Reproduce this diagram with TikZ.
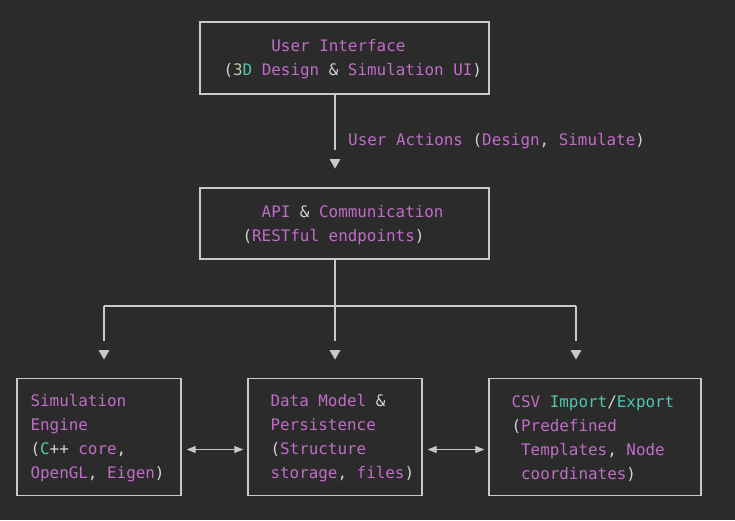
\documentclass[tikz,border=0pt]{standalone}
\usepackage{fontspec}
\setmonofont{DejaVu Sans Mono}
\usetikzlibrary{positioning, arrows.meta, shapes.geometric}
\definecolor{bgdark}{HTML}{2B2B2B}
\definecolor{plaincol}{HTML}{D4D4D4}
\definecolor{kwcol}{HTML}{C06CC8}
\definecolor{tycol}{HTML}{4EC9B0}
\definecolor{numcol}{HTML}{B5CEA8}
\definecolor{framecol}{HTML}{C8C8C8}
\newcommand{\kwd}[1]{\textcolor{kwcol}{#1}}
\newcommand{\typ}[1]{\textcolor{tycol}{#1}}
\newcommand{\nmb}[1]{\textcolor{numcol}{#1}}
\newcommand{\ind}[1]{\hphantom{#1}}
\tikzset{
	every node/.append style={
		font=\fontsize{15.9}{24}\selectfont\ttfamily,
		text=plaincol,
	},
	block/.style={
		draw=framecol,
		line width=1.3pt,
		inner sep=0pt,
	},
	txt/.style={
		align=left,
		inner sep=0pt,
		yshift=-1.5pt,
	},
	wire/.style={draw=framecol, line width=1.5pt},
	link/.style={draw=framecol, line width=1pt, {Triangle[width=7pt,length=9pt]}-{Triangle[width=7pt,length=9pt]}},
	tipdown/.style={regular polygon, regular polygon sides=3, shape border rotate=180,
		fill=framecol, inner sep=0pt, minimum size=12.5pt, anchor=north},
}

\begin{document}
\begin{tikzpicture}[x=1pt, y=-1pt]
	\fill[bgdark] (0,0) rectangle (735,520);

	\node[block, minimum width=289pt, minimum height=72pt](ui) at (344.5,58){};
	\node[txt, right=24pt of ui.west](uitext){\ind{00000}\kwd{User Interface}\\(\nmb{3}\typ{D} \kwd{Design} \& \kwd{Simulation UI})};

	\node[tipdown](tipapi) at (335,159){};
	\node[txt, anchor=west](actlabel) at (348,140){\kwd{User Actions} (\kwd{Design}, \kwd{Simulate})};

	\node[block, minimum width=289pt, minimum height=71pt](api) at (344.5,223.5){};
	\node[txt, right=43pt of api.west](apitext){\ind{00}\kwd{API} \& \kwd{Communication}\\(\kwd{RESTful endpoints})};

	% fan out
	\coordinate (split) at (335,306);
	\node[tipdown](tipsim) at (104,350){};
	\node[tipdown](tipdata) at (335,350){};
	\node[tipdown](tipcsv) at (576,350){};

	\node[block, minimum width=164pt, minimum height=117pt](sim) at (99,437){};
	\node[txt, right=14pt of sim.west](simtext){\kwd{Simulation}\\\kwd{Engine}\\(\typ{C}++ \kwd{core},\\\kwd{OpenGL}, \kwd{Eigen})};

	\node[block, minimum width=174pt, minimum height=117pt](data) at (335,437){};
	\node[txt, right=23pt of data.west](datatext){\kwd{Data Model} \&\\\kwd{Persistence}\\(\kwd{Structure}\\\kwd{storage}, \kwd{files})};

	\node[block, minimum width=212pt, minimum height=117pt](csv) at (595,437){};
	\node[txt, right=23pt of csv.west](csvtext){\kwd{CSV} \typ{Import}/\typ{Export}\\(\kwd{Predefined}\\\ind{0}\kwd{Templates}, \kwd{Node}\\\ind{0}\kwd{coordinates})};

	\draw[wire] (tipapi |- ui.south) -- ([yshift=9pt]tipapi.north);
	\draw[wire] (tipdata |- api.south) -- (split);
	\draw[wire] (tipsim |- split) -- (tipcsv |- split);
	\foreach \tip in {tipsim, tipdata, tipcsv}
		\draw[wire] (\tip |- split) -- ([yshift=9pt]\tip.north);

	\draw[link, shorten <=5pt, shorten >=4pt] ([yshift=-12.5pt]sim.east) -- ([yshift=-12.5pt]data.west);
	\draw[link, shorten <=5pt, shorten >=4pt] ([yshift=-12.5pt]data.east) -- ([yshift=-12.5pt]csv.west);
\end{tikzpicture}
\end{document}
